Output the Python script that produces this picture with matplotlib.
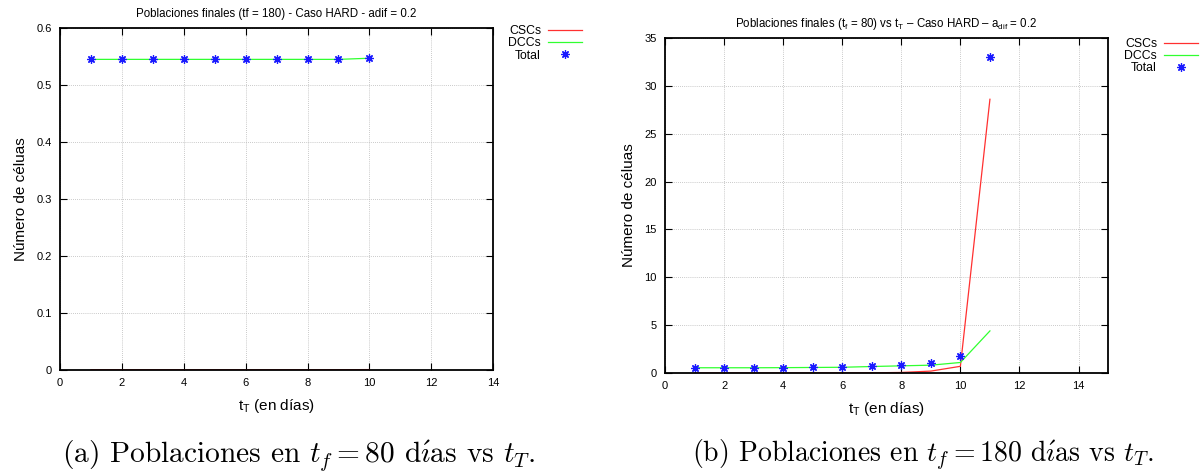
import matplotlib.pyplot as plt

plt.rcParams['font.family'] = ['Liberation Sans', 'DejaVu Sans']
plt.rcParams['mathtext.fontset'] = 'custom'
plt.rcParams['mathtext.rm'] = 'Liberation Sans'
plt.rcParams['mathtext.it'] = 'Liberation Sans'

# (a) tf = 80
tt_a = [1, 2, 3, 4, 5, 6, 7, 8, 9, 10]
csc_a = [0.0005, 0.0005, 0.0005, 0.0005, 0.0005, 0.0005, 0.0005, 0.0005, 0.0005, 0.0008]
dcc_a = [0.545, 0.545, 0.545, 0.545, 0.545, 0.545, 0.545, 0.545, 0.545, 0.547]
tot_a = [0.5455, 0.5455, 0.5455, 0.5455, 0.5455, 0.5455, 0.5455, 0.5455, 0.5455, 0.548]

# (b) tf = 180
tt_b = [1, 2, 3, 4, 5, 6, 7, 8, 9, 10, 11]
csc_b = [0.0, 0.0, 0.0, 0.0, 0.0, 0.01, 0.02, 0.06, 0.2, 0.7, 28.6]
dcc_b = [0.55, 0.55, 0.55, 0.56, 0.58, 0.6, 0.68, 0.75, 0.82, 1.1, 4.4]
tot_b = [0.55, 0.55, 0.55, 0.56, 0.58, 0.61, 0.7, 0.81, 1.02, 1.8, 33.0]

title_a = 'Poblaciones finales (tf = 180) - Caso HARD - adif = 0.2'
title_b = r'Poblaciones finales (t$_\mathregular{f}$ = 80) vs t$_\mathregular{T}$ – Caso HARD – a$_\mathregular{dif}$ = 0.2'
caption_a = r'(a) Poblaciones en $t_f = 80$ d$\mathrm{\acute{\imath}}$as vs $t_T$.'
caption_b = r'(b) Poblaciones en $t_f = 180$ d$\mathrm{\acute{\imath}}$as vs $t_T$.'

fig = plt.figure(figsize=(12.03, 4.75), dpi=100)
ax1 = fig.add_axes([0.0499, 0.221, 0.36, 0.72])
ax2 = fig.add_axes([0.5528, 0.2147, 0.3683, 0.7053])


def style(ax, xmax, ymax, yticks, title, leg_xy):
    ax.set_xlim(0, xmax)
    ax.set_ylim(0, ymax)
    ax.set_xticks(range(0, 15, 2))
    ax.set_yticks(yticks)
    ax.grid(True, color='#b8b8b8', linestyle=(0, (1, 1.5)), linewidth=0.6)
    ax.tick_params(direction='in', top=True, right=True, length=5, width=0.8,
                   labelsize=8, pad=6)
    for s in ax.spines.values():
        s.set_linewidth(1.3)
    ax.set_title(title, fontsize=8.3, pad=8)
    ax.set_xlabel(r't$_\mathregular{T}$ (en días)', fontsize=11, labelpad=6)
    ax.set_ylabel('Número de céluas', fontsize=11, labelpad=6)
    ax.legend(loc='upper right', bbox_to_anchor=leg_xy, bbox_transform=fig.transFigure,
              markerfirst=False, frameon=False, fontsize=8.8, handlelength=2.8,
              labelspacing=0.02, handletextpad=0.55, borderaxespad=0, borderpad=0)


star = (8, 2, 0)
for ax, tt, csc, dcc, tot in [(ax1, tt_a, csc_a, dcc_a, tot_a),
                              (ax2, tt_b, csc_b, dcc_b, tot_b)]:
    ax.plot(tt, csc, color='#ff3030', lw=0.9, label='CSCs')
    ax.plot(tt, dcc, color='#30ff30', lw=0.9, label='DCCs')
    ax.plot(tt, tot, ls='none', marker=star, color='#1a1aff', ms=6, mew=0.9,
            label='Total')

style(ax1, 14, 0.6, [0, 0.1, 0.2, 0.3, 0.4, 0.5, 0.6], title_a, (0.4838, 0.947))
style(ax2, 15, 35, range(0, 36, 5), title_b, (0.9958, 0.92))
ax1.set_yticklabels(['0', '0.1', '0.2', '0.3', '0.4', '0.5', '0.6'])

cap = dict(family='cmr10', math_fontfamily='cm', ha='center', va='center')
fig.text(0.248, 0.042, caption_a, fontsize=21.2, **cap)
fig.text(0.767, 0.042, caption_b, fontsize=20, **cap)

fig.savefig('out.png', dpi=100)
